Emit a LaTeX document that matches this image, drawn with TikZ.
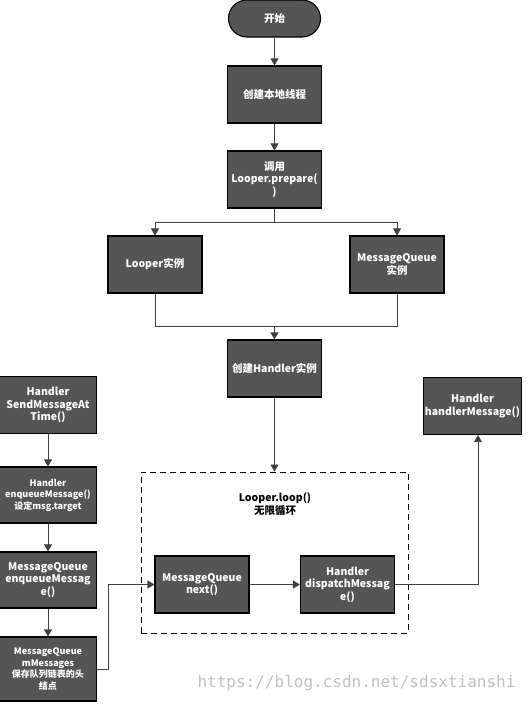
\documentclass[tikz,border=0pt]{standalone}
\usepackage{fontspec}
\setmainfont{Noto Sans CJK SC}
\newfontfamily\wmfont{DejaVu Sans Mono}
\usetikzlibrary{arrows.meta,shapes.misc}
\definecolor{boxfill}{RGB}{85,85,85}
\definecolor{linec}{RGB}{64,64,64}
\tikzset{
  box/.style={draw=black, line width=1.1pt, fill=boxfill, text=white, font=\bfseries\fontsize{10.5}{12.5}\selectfont, align=center, minimum width=94pt, minimum height=57pt, inner sep=1pt},
  smallbox/.style={box, font=\bfseries\fontsize{9}{11.5}\selectfont},
  term/.style={box, rounded rectangle, minimum height=37pt},
  arr/.style={draw=linec, line width=0.8pt, -{Triangle[length=7pt,width=8pt]}},
  ln/.style={draw=linec, line width=0.8pt},
}
\begin{document}
\begin{tikzpicture}[x=1pt,y=-1pt]
\useasboundingbox (0,0) rectangle (530,704);
\node[term] (start) at (274.5,18.5) {开始};
\node[box] (b1) at (274.5,94.5) {创建本地线程};
\node[box] (b2) at (274.5,179.5) {调用\\Looper.prepare(\\)};
\node[box] (looper) at (155,264.5) {Looper实例};
\node[box] (mq) at (397,264.5) {MessageQueue\\实例};
\node[box] (handler) at (274.5,368.5) {创建Handler实例};
\node[draw=black, line width=0.9pt, dash pattern=on 6pt off 4pt, minimum width=267pt, minimum height=161pt, inner sep=0pt] (loop) at (274.5,552.5) {};
\node[font=\bfseries\fontsize{10.5}{12.5}\selectfont, align=center, text=black] (looplabel) at (275,504) {Looper.loop()\\无限循环};
\node[box] (next) at (202,584.5) {MessageQueue\\next()};
\node[box] (dispatch) at (347.5,584.5) {Handler\\dispatchMessag\\e()};
\node[box] (hm) at (472.5,406) {Handler\\handlerMessage()};
\node[box, minimum width=97pt, minimum height=57pt] (s1) at (48,405) {Handler\\SendMessageAt\\Time()};
\node[smallbox, minimum width=97pt, minimum height=56pt] (s2) at (48,495) {Handler\\enqueueMessage()\\设定msg.target};
\node[box, minimum width=97pt, minimum height=56pt] (s3) at (48,580) {MessageQueue\\enqueueMessag\\e()};
\node[smallbox, minimum width=97pt, minimum height=64pt] (s4) at (48,669) {MessageQueue\\mMessages\\保存队列链表的头\\结点};
\node[font=\wmfont\fontsize{16}{18}\selectfont, text=black!25, anchor=east] (wm) at (519,683) {https://blog.csdn.net/sdsxtianshi};
\coordinate (split) at (274.5,222);
\coordinate (merge) at (274.5,326.5);
\coordinate (jx) at (108,0);
\coordinate (hx) at (478,0);
\draw[arr] (start) -- (b1);
\draw[arr] (b1) -- (b2);
\draw[ln] (b2.south) -- (split);
\draw[arr] (split) -| (looper.north);
\draw[arr] (split) -| (mq.north);
\draw[ln] (looper.south) |- (merge);
\draw[ln] (mq.south) |- (merge);
\draw[arr] (merge) -- (handler.north);
\draw[arr] (handler.south) -- (loop.north);
\draw[arr] (next) -- (dispatch);
\draw[arr] (dispatch.east) -| (hx |- hm.south);
\draw[arr] (s1) -- (s2);
\draw[arr] (s2) -- (s3);
\draw[arr] (s3) -- (s4);
\draw[arr] (s4.east) -- (s4.east -| jx) |- (next.west);
\end{tikzpicture}
\end{document}
